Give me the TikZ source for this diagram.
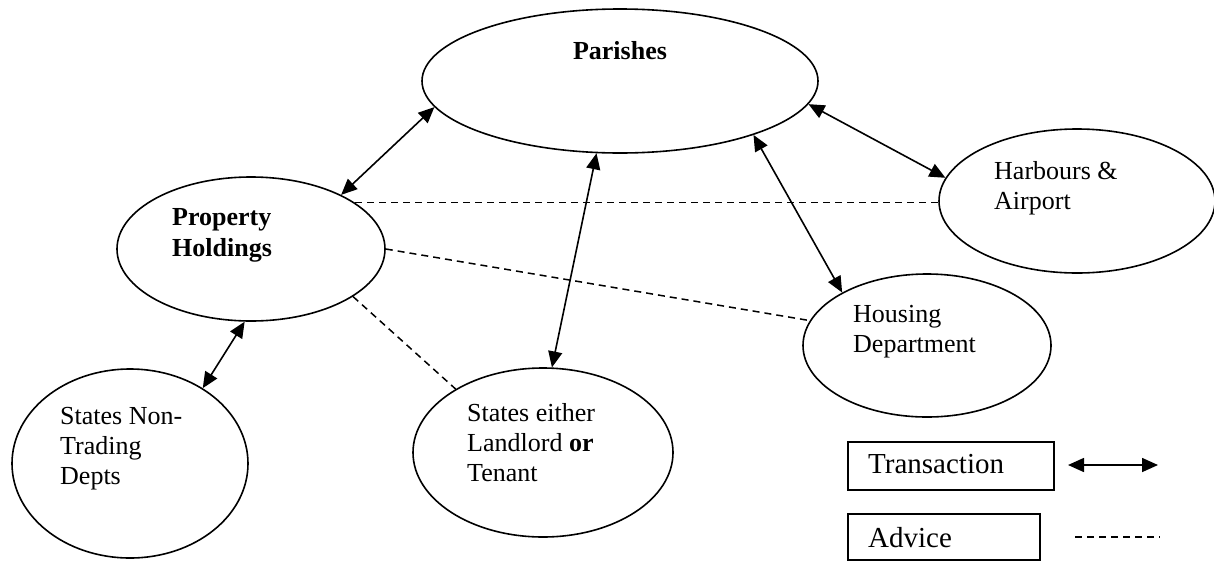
\documentclass[tikz,border=0pt]{standalone}
\usepackage{fontspec}
\setmainfont{Liberation Serif}
\usetikzlibrary{arrows.meta,shapes.geometric}
\begin{document}
\begin{tikzpicture}[x=1pt,y=-1pt,
  ell/.style={draw, ellipse, line width=1.6pt, inner sep=0pt},
  lbl/.style={align=left, anchor=base west, inner sep=0pt, font=\fontsize{26}{30}\selectfont},
  leglbl/.style={anchor=base west, inner sep=0pt, font=\fontsize{29}{33}\selectfont},
  trans/.style={line width=1.6pt, {Triangle[length=16pt,width=14pt]}-{Triangle[length=16pt,width=14pt]}},
  adv/.style={line width=1.5pt, dash pattern=on 7pt off 5pt},
  legbox/.style={draw, line width=1.6pt, anchor=north west, inner sep=0pt}
]
\useasboundingbox (0,0) rectangle (1214,560);
\fill[white] (0,0) rectangle (1214,560);

% ellipses
\node[ell, minimum width=396pt, minimum height=144pt] (par) at (620,81) {};
\node[ell, minimum width=268pt, minimum height=144pt] (prop) at (251,249) {};
\node[ell, minimum width=276pt, minimum height=144pt] (harb) at (1077,201) {};
\node[ell, minimum width=248pt, minimum height=143pt] (hous) at (927,345.5) {};
\node[ell, minimum width=260pt, minimum height=169pt] (land) at (543,452.5) {};
\node[ell, minimum width=236pt, minimum height=189pt] (ntd) at (130,463.5) {};

% texts (base anchor = baseline of the last line)
\node[anchor=base, inner sep=0pt, font=\fontsize{26}{30}\selectfont\bfseries] (tpar) at (620,59) {Parishes};
\node[lbl, font=\fontsize{26}{31}\selectfont\bfseries] (tprop) at (172,256) {Property\\Holdings};
\node[lbl] (tharb) at (994,209) {Harbours \&\\Airport};
\node[lbl] (thous) at (853,352) {Housing\\Department};
\node[lbl] (tntd) at (60,484) {States Non-\\Trading\\Depts};
\node[lbl] (tland) at (467,481) {States either\\Landlord \textbf{or}\\Tenant};

% transactions
\draw[trans] (prop.31) -- (par.188);
\draw[trans] (par.252) -- (land.84);
\draw[trans] (par.338) -- (hous.148);
\draw[trans] (par.-7.5) -- (harb.170);
\draw[trans] (prop.265) -- (ntd.46);

% advice
\draw[adv] (prop.24) -- (prop.24 -| harb.west);
\draw[adv] (prop.0) -- (hous.168);
\draw[adv] (prop.-25) -- (land.144);

% legend
\node[legbox, minimum width=206pt, minimum height=48pt] (btrans) at (847,441) {};
\node[legbox, minimum width=192pt, minimum height=46pt] (badv) at (847,513) {};
\node[leglbl] (ltrans) at (868,473) {Transaction};
\node[leglbl] (ladv) at (868,547) {Advice};
\coordinate (ta1) at (1068,465);
\coordinate (ta2) at (1158,465);
\coordinate (da1) at (1075,537);
\coordinate (da2) at (1160,537);
\draw[trans] (ta1) -- (ta2);
\draw[adv] (da1) -- (da2);
\end{tikzpicture}
\end{document}
